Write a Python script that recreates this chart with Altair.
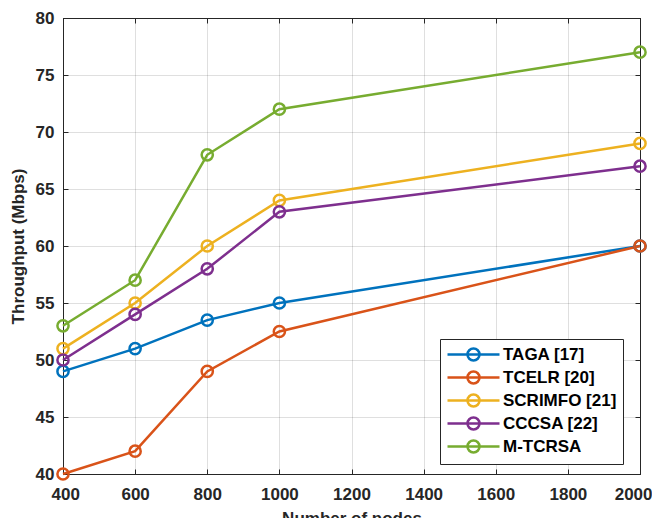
import altair as alt
import pandas as pd

nodes = [400, 600, 800, 1000, 2000]
methods = ["TAGA [17]", "TCELR [20]", "SCRIMFO [21]", "CCCSA [22]", "M-TCRSA"]
taga = [49, 51, 53.5, 55, 60]
tcelr = [40, 42, 49, 52.5, 60]
scrimfo = [51, 55, 60, 64, 69]
cccsa = [50, 54, 58, 63, 67]
mtcrsa = [53, 57, 68, 72, 77]
colors = ["#0072BD", "#D95319", "#EDB120", "#7E2F8E", "#77AC30"]
x_ticks = [400, 600, 800, 1000, 1200, 1400, 1600, 1800, 2000]
y_ticks = [40, 45, 50, 55, 60, 65, 70, 75, 80]

series = [taga, tcelr, scrimfo, cccsa, mtcrsa]
rows = []
for name, vals in zip(methods, series):
    for n, v in zip(nodes, vals):
        rows.append({"nodes": n, "throughput": v, "method": name})
df = pd.DataFrame(rows)

FONT = "Liberation Sans"
TXT = "#262626"

xscale = alt.Scale(domain=[400, 2000], nice=False)
yscale = alt.Scale(domain=[40, 80], nice=False)

xaxis = alt.Axis(values=x_ticks, title="Number of nodes", format="d",
                 tickSize=alt.ExprRef(expr="-5"), labelPadding=17,
                 titlePadding=8, labelFlush=True, labelFlushOffset=12)
yaxis = alt.Axis(values=y_ticks, title="Throughput (Mbps)",
                 tickSize=alt.ExprRef(expr="-5"), labelPadding=14,
                 titlePadding=8, labelFlush=False)

# line with hollow circle; layout box is 16px wide, drawn line is 52px wide
legend_path = ("M-1,0L5.5,0M1.5,0A0.75,0.75,0,1,1,3,0"
               "A0.75,0.75,0,1,1,1.5,0Z")

color = alt.Color("method:N", sort=methods,
                  scale=alt.Scale(domain=methods, range=colors),
                  legend=alt.Legend(title=None, orient="none",
                                    legendX=377, legendY=321,
                                    symbolType=legend_path, symbolSize=256,
                                    symbolStrokeWidth=2.5,
                                    symbolFillColor="transparent",
                                    labelOffset=38))

base = alt.Chart(df).encode(
    x=alt.X("nodes:Q", scale=xscale, axis=xaxis),
    y=alt.Y("throughput:Q", scale=yscale, axis=yaxis),
    color=color,
)

lines = base.mark_line(strokeWidth=2.5)
points = alt.Chart(df).mark_point(shape="circle", size=125, strokeWidth=2.5,
                                  filled=False, opacity=1).encode(
    x=alt.X("nodes:Q", scale=xscale, axis=None),
    y=alt.Y("throughput:Q", scale=yscale, axis=None),
    color=color,
)

ghost = alt.Chart(df).mark_point(opacity=0).encode(
    x=alt.X("nodes:Q", scale=xscale,
            axis=alt.Axis(orient="top", values=x_ticks, labels=False,
                          title=None, grid=False,
                          tickSize=alt.ExprRef(expr="-5"))),
    y=alt.Y("throughput:Q", scale=yscale,
            axis=alt.Axis(orient="right", values=y_ticks, labels=False,
                          title=None, grid=False,
                          tickSize=alt.ExprRef(expr="-5"))),
)

chart = alt.layer(lines, points, ghost).resolve_axis(
    x="independent", y="independent"
).properties(
    width=577, height=456,
    autosize=alt.AutoSizeParams(type="none"),
    padding={"left": 55, "top": 10, "right": 12, "bottom": 44},
).configure_view(
    stroke=TXT, strokeWidth=1
).configure_axis(
    labelFont=FONT, labelFontSize=17, labelFontWeight="bold", labelColor=TXT,
    titleFont=FONT, titleFontSize=17, titleFontWeight="bold", titleColor=TXT,
    domainColor=TXT, domainWidth=1, tickColor=TXT, tickWidth=1,
    gridColor=TXT, gridOpacity=0.15, gridWidth=1,
).configure_legend(
    labelFont=FONT, labelFontSize=17, labelFontWeight="bold", labelColor="#000000",
    strokeColor="#262626", fillColor="#ffffff", padding=6, rowPadding=0,
    labelLimit=300,
)

chart.save("out.html", embed_options={"renderer": "svg", "actions": False})
